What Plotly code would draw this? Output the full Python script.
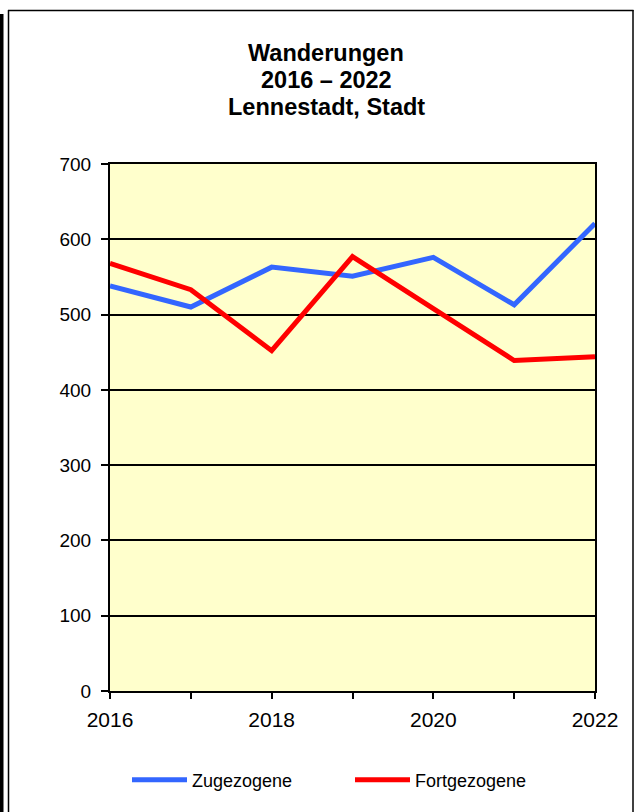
import plotly.graph_objects as go

years = [2016, 2017, 2018, 2019, 2020, 2021, 2022]
zugezogene = [538, 510, 563, 551, 576, 513, 621]
fortgezogene = [568, 533, 452, 577, 508, 439, 444]
series_names = ["Zugezogene", "Fortgezogene"]
series_colors = ["#3366FF", "#FF0000"]
title_lines = ["Wanderungen", "2016 – 2022", "Lennestadt, Stadt"]

W, H = 635, 812
L, R, T, B = 110, 595, 164, 691  # plot area in pixels

def px(x):
    return (x - L) / (R - L)

def py(y):
    return (B - y) / (B - T)

FONT = "Liberation Sans, Arial, sans-serif"

fig = go.Figure()
for name, vals, col in zip(series_names, [zugezogene, fortgezogene], series_colors):
    fig.add_trace(go.Scatter(x=years, y=vals, mode="lines", name=name,
                             line=dict(color=col, width=5)))

shapes = [
    dict(type="rect", xref="paper", yref="paper", x0=px(0), x1=px(3.5), y0=py(H + 5), y1=py(14),
         fillcolor="black", line=dict(width=0)),
    dict(type="line", xref="paper", yref="paper", x0=px(8.5), x1=px(8.5), y0=py(H + 5), y1=py(10),
         line=dict(color="black", width=1.5)),
    dict(type="line", xref="paper", yref="paper", x0=px(8), x1=px(633.5), y0=py(10.5), y1=py(10.5),
         line=dict(color="black", width=1.5)),
    dict(type="line", xref="paper", yref="paper", x0=px(633), x1=px(633), y0=py(H + 5), y1=py(10),
         line=dict(color="black", width=1.5)),
]

title_y = [53, 80, 107]
annotations = [dict(text="<b>" + t + "</b>", xref="paper", yref="paper",
                    x=px(326), y=py(yy), xanchor="center", yanchor="middle", showarrow=False,
                    font=dict(size=23.5, family=FONT, color="black"))
               for t, yy in zip(title_lines, title_y)]

fig.update_layout(
    width=W, height=H,
    margin=dict(l=L, r=W - R, t=T, b=H - B, pad=0),
    paper_bgcolor="white",
    plot_bgcolor="#FFFFCC",
    font=dict(family=FONT, color="black"),
    shapes=shapes,
    annotations=annotations,
    showlegend=True,
    legend=dict(orientation="h", x=px(127), xanchor="left", y=py(780), yanchor="middle",
                font=dict(size=18, family=FONT), itemwidth=55, entrywidth=153,
                bgcolor="rgba(0,0,0,0)", traceorder="normal"),
    xaxis=dict(range=[2016, 2022], dtick=2, tick0=2016, showgrid=False, zeroline=False,
               showline=True, linecolor="black", linewidth=2, mirror=True,
               ticks="outside", ticklen=6, tickwidth=2, tickcolor="black",
               ticklabelstandoff=3,
               tickfont=dict(size=21, family=FONT),
               minor=dict(dtick=1, ticks="outside", ticklen=6, tickwidth=2, tickcolor="black", showgrid=False)),
    yaxis=dict(range=[0, 700], dtick=100, showgrid=True, gridcolor="black", gridwidth=2,
               zeroline=False, showline=True, linecolor="black", linewidth=2, mirror=True,
               ticks="outside", ticklen=7, tickwidth=2, tickcolor="black",
               ticklabelstandoff=6,
               tickfont=dict(size=19, family=FONT)),
)

fig.write_html("out.html", config={"displayModeBar": False},
               post_script="document.body.style.margin='0';document.body.style.overflow='hidden';")
